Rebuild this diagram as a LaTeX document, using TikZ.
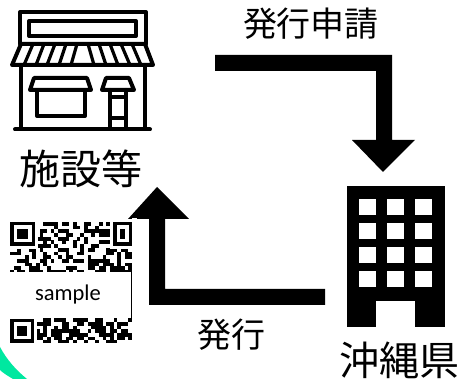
\documentclass[tikz,border=0pt]{standalone}
\usepackage{fontspec}
\setmainfont{Carlito}
\newfontfamily\cjk{Noto Sans CJK JP}
\definecolor{arcgreen}{HTML}{00E8A0}
\tikzset{
  px/.style={x=1pt,y=-1pt},
  icon/.style={draw=black,line width=4pt,line join=round,line cap=round},
  thin icon/.style={draw=black,line width=3.2pt,line join=round,line cap=round},
  blockarrow/.style={fill=black,draw=none},
  label28/.style={font=\cjk\fontsize{34}{34}\selectfont,inner sep=0pt,text=black},
  label34/.style={font=\cjk\fontsize{40}{40}\selectfont,inner sep=0pt,text=black},
  qrmod/.style={fill=black,draw=none}
}
\begin{document}
\begin{tikzpicture}[px]
\useasboundingbox (0,0) rectangle (459,379);
\fill[white] (0,0) rectangle (459,379);
% green arc
\fill[arcgreen] (0,347) .. controls (7,360) and (16,370) .. (27,379) -- (13,379) .. controls (8,376) and (3,373) .. (0,370) -- cycle;
% shop icon
\draw[icon] (20,44) -- (20,12) -- (146,12) -- (146,44);
\draw[icon] (29,21) rectangle (136,36);
\draw[icon] (21,44) -- (145,44) -- (153,65) -- (12,65) -- cycle;
\foreach \a/\b in {33/24,44/36,55/47,66/59,77/71,88/94,99/106,110/118,121/130,132/141}{
  \draw[thin icon] (\a,44) -- (\b,65);
}
\draw[icon] (21,65) -- (21,129);
\draw[icon] (145,65) -- (145,129);
\draw[icon] (15,129.5) -- (150,129.5);
\draw[icon] (34,78) -- (87,78) -- (91,90) -- (30,90) -- cycle;
\draw[icon] (37,90) rectangle (85,116);
\draw[icon] (106,78) -- (129,78) -- (134,90) -- (102,90) -- cycle;
\draw[icon] (110,90) -- (110,129);
\draw[icon] (126,90) -- (126,129);
\draw[thin icon] (110,97) -- (126,97);
\draw[thin icon] (110,118) -- (126,118);
% labels
\node[label34,font=\cjk\fontsize{41}{41}\selectfont] (shop) at (81,169) {施設等};
\node[label28] (apply) at (311,24) {発行申請};
\node[label28] (issue) at (231,335) {発行};
\node[label34] (pref) at (399,360) {沖縄県};
% arrow: apply
\fill[blockarrow] (215,55) -- (392,55) -- (392,140) -- (415,140) -- (383,172) -- (352,140) -- (376,140) -- (376,71) -- (215,71) -- cycle;
% arrow: issue
\fill[blockarrow] (325,289) -- (325,305) -- (149,305) -- (149,219) -- (128,219) -- (157,187) -- (189,219) -- (165,219) -- (165,289) -- cycle;
% building
\fill[black] (347,186) rectangle (445,327);
\foreach \cx in {359,387,415}{
  \foreach \cy in {199,223,247,271}{
    \fill[white] (\cx,\cy) rectangle +(17,16);
  }
}
\fill[white] (376,301) rectangle (415,328);
% QR code
\pgfmathsetseed{4711}
\foreach \i in {0,...,32}{
  \foreach \j in {0,...,32}{
    \pgfmathsetmacro{\r}{rnd}
    \pgfmathparse{int(\r<0.52 ? 1 : 0)}
    \ifnum\pgfmathresult=1
      \fill[qrmod] ({10+3.7*\i},{222+3.7*\j}) rectangle +(3.75,3.75);
    \fi
  }
}
\foreach \fx/\fy/\fw in {10/222/25,113/222/19,10/319/24}{
  \fill[white] (\fx-3,\fy-0.5) rectangle +(\fw+6,27.5);
  \fill[black] (\fx,\fy) rectangle +(\fw,24);
  \fill[white] (\fx+3.5,\fy+3.5) rectangle +(\fw-7,17);
  \fill[black] (\fx+7,\fy+7) rectangle +(\fw-14,10);
}
\fill[white] (5,343) rectangle (136,349);
\fill[white] (132,218) rectangle (137,349);
\fill[white] (5,272.5) rectangle (131,318);
\fill[black] (131,272.5) rectangle (132,318);
\node[font=\fontsize{22.5}{22.5}\selectfont,inner sep=0pt] (sample) at (68,295) {sample};
\end{tikzpicture}
\end{document}
